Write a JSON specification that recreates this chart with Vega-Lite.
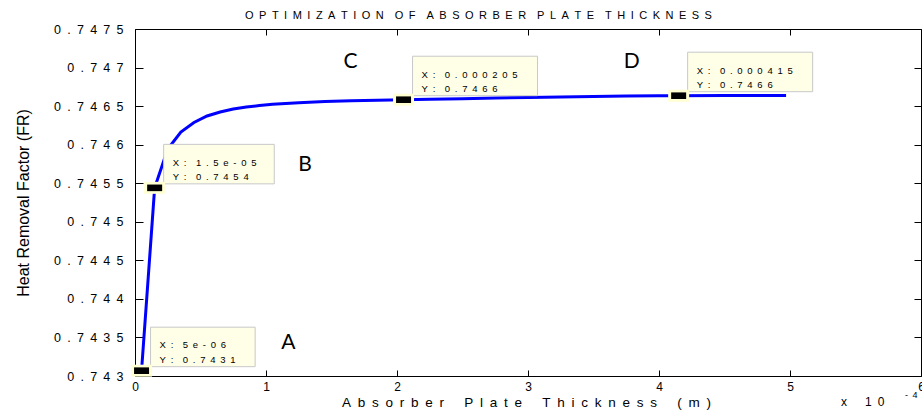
{
  "$schema": "https://vega.github.io/schema/vega-lite/v6.json",
  "width": 786,
  "height": 347,
  "autosize": {"type": "none"},
  "padding": {"left": 135, "top": 29, "right": 1, "bottom": 44},
  "background": "white",
  "config": {
    "view": {"stroke": null},
    "font": "Liberation Sans",
    "axis": {"domainColor": "black", "tickColor": "black", "labelColor": "black", "titleColor": "black", "grid": false, "domainWidth": 1, "tickWidth": 1, "labelFont": "Liberation Sans", "titleFont": "Liberation Sans"}
  },
  "title": {
    "text": "O\u2002P\u2002T\u2002I\u2002M\u2002I\u2002Z\u2002A\u2002T\u2002I\u2002O\u2002N\u2003O\u2002F\u2003A\u2002B\u2002S\u2002O\u2002R\u2002B\u2002E\u2002R\u2003P\u2002L\u2002A\u2002T\u2002E\u2003T\u2002H\u2002I\u2002C\u2002K\u2002N\u2002E\u2002S\u2002S",
    "anchor": "start", "frame": "group", "dx": 110, "fontSize": 11, "fontWeight": "normal", "font": "Liberation Sans", "color": "black", "offset": 2
  },
  "datasets": {
    "curve": [
      {"x": 0.000005, "y": 0.743069},
      {"x": 0.000015, "y": 0.74544},
      {"x": 0.000025, "y": 0.745944},
      {"x": 0.000035, "y": 0.746164},
      {"x": 0.000045, "y": 0.746288},
      {"x": 0.000055, "y": 0.746372},
      {"x": 0.000065, "y": 0.746424},
      {"x": 0.000075, "y": 0.746463},
      {"x": 0.000085, "y": 0.746488},
      {"x": 0.000095, "y": 0.746508},
      {"x": 0.000105, "y": 0.746524},
      {"x": 0.000125, "y": 0.746543},
      {"x": 0.000145, "y": 0.74656},
      {"x": 0.000165, "y": 0.746569},
      {"x": 0.000185, "y": 0.746577},
      {"x": 0.000205, "y": 0.746583},
      {"x": 0.000225, "y": 0.74659},
      {"x": 0.00025, "y": 0.746597},
      {"x": 0.000275, "y": 0.746605},
      {"x": 0.0003, "y": 0.746612},
      {"x": 0.000325, "y": 0.746618},
      {"x": 0.00035, "y": 0.746625},
      {"x": 0.000375, "y": 0.746631},
      {"x": 0.0004, "y": 0.746634},
      {"x": 0.000415, "y": 0.746635},
      {"x": 0.00045, "y": 0.746638},
      {"x": 0.000497, "y": 0.746639}
    ],
    "tips": [
      {"tip": "A", "x": 0.000005, "y": 0.743069, "text": "X\u2002:\u2002\u20025\u2002e\u2002-\u20020\u20026\nY\u2002:\u2002\u20020\u2002.\u20027\u20024\u20023\u20021"},
      {"tip": "B", "x": 0.000015, "y": 0.74544, "text": "X\u2002:\u2002\u20021\u2002.\u20025\u2002e\u2002-\u20020\u20025\nY\u2002:\u2002\u20020\u2002.\u20027\u20024\u20025\u20024"},
      {"tip": "C", "x": 0.000205, "y": 0.746583, "text": "X\u2002:\u2002\u20020\u2002.\u20020\u20020\u20020\u20022\u20020\u20025\nY\u2002:\u2002\u20020\u2002.\u20027\u20024\u20026\u20026"},
      {"tip": "D", "x": 0.000415, "y": 0.746635, "text": "X\u2002:\u2002\u20020\u2002.\u20020\u20020\u20020\u20024\u20021\u20025\nY\u2002:\u2002\u20020\u2002.\u20027\u20024\u20026\u20026"}
    ],
    "letters": [
      {"label": "A", "x": 0.0001170, "y": 0.743424},
      {"label": "B", "x": 0.0001298, "y": 0.745736},
      {"label": "C", "x": 0.0001645, "y": 0.747076},
      {"label": "D", "x": 0.0003792, "y": 0.747076}
    ],
    "exponent": [
      {"part": "base", "x": 0.0005389, "y": 0.742663, "t": "x\u2003\u20021\u20020"},
      {"part": "sup", "x": 0.0005878, "y": 0.742754, "t": "-\u20024"}
    ]
  },
  "layer": [
    {
      "data": {"name": "curve"},
      "mark": {"type": "line", "color": "#0000ff", "strokeWidth": 3},
      "encoding": {
        "x": {"field": "x", "type": "quantitative", "scale": {"domain": [0, 0.0006], "nice": false, "zero": false},
          "axis": {"orient": "bottom", "values": [0, 0.0001, 0.0002, 0.0003, 0.0004, 0.0005, 0.0006], "labelExpr": "format(datum.value*10000,'d')", "tickSize": -6, "labelPadding": 11, "labelFontSize": 12, "labelFlush": false, "labelOverlap": false,
            "title": "A\u2002b\u2002s\u2002o\u2002r\u2002b\u2002e\u2002r\u2003\u2002P\u2002l\u2002a\u2002t\u2002e\u2003\u2002T\u2002h\u2002i\u2002c\u2002k\u2002n\u2002e\u2002s\u2002s\u2003\u2002(\u2002m\u2002)",
            "titleFontSize": 13.5, "titleFontWeight": "normal", "titleX": 391, "titleY": 26, "titleBaseline": "middle", "titleAlign": "center"}},
        "y": {"field": "y", "type": "quantitative", "scale": {"domain": [0.743, 0.7475], "nice": false, "zero": false},
          "axis": {"orient": "left", "values": [0.743, 0.7435, 0.744, 0.7445, 0.745, 0.7455, 0.746, 0.7465, 0.747, 0.7475], "labelExpr": "join(split(format(datum.value,'.4~f'),''),'\u2002')", "tickSize": -8, "labelPadding": 20, "labelFontSize": 12.5, "labelOverlap": false,
            "title": "Heat Removal Factor (FR)", "titleFontSize": 16, "titleFontWeight": "normal", "titleX": -112, "titleY": 173.5, "titleAngle": -90, "titleBaseline": "middle", "titleAlign": "center"}}
      }
    },
    {
      "data": {"name": "curve"},
      "mark": {"type": "point", "opacity": 0},
      "encoding": {
        "x": {"field": "x", "type": "quantitative", "scale": {"domain": [0, 0.0006], "nice": false, "zero": false},
          "axis": {"orient": "top", "values": [0, 0.0001, 0.0002, 0.0003, 0.0004, 0.0005, 0.0006], "labels": false, "tickSize": -6, "title": null}},
        "y": {"field": "y", "type": "quantitative", "scale": {"domain": [0.743, 0.7475], "nice": false, "zero": false},
          "axis": {"orient": "right", "values": [0.743, 0.7435, 0.744, 0.7445, 0.745, 0.7455, 0.746, 0.7465, 0.747, 0.7475], "labels": false, "tickSize": -7, "title": null}}
      }
    },
    {
      "data": {"name": "tips"},
      "transform": [{"filter": "datum.tip == 'A'"}],
      "mark": {"type": "rect", "fill": "#ffffe8", "stroke": "#c8c8c8", "strokeWidth": 1, "xOffset": 9, "x2Offset": 113.6, "yOffset": -43.5, "y2Offset": -4},
      "encoding": {
        "x": {"field": "x", "type": "quantitative", "scale": {"domain": [0, 0.0006], "nice": false, "zero": false}, "axis": null},
        "x2": {"field": "x"},
        "y": {"field": "y", "type": "quantitative", "scale": {"domain": [0.743, 0.7475], "nice": false, "zero": false}, "axis": null},
        "y2": {"field": "y"}
      }
    },
    {
      "data": {"name": "tips"},
      "transform": [{"filter": "datum.tip == 'B'"}],
      "mark": {"type": "rect", "fill": "#ffffe8", "stroke": "#c8c8c8", "strokeWidth": 1, "xOffset": 9, "x2Offset": 119.6, "yOffset": -43.5, "y2Offset": -4},
      "encoding": {
        "x": {"field": "x", "type": "quantitative", "scale": {"domain": [0, 0.0006], "nice": false, "zero": false}, "axis": null},
        "x2": {"field": "x"},
        "y": {"field": "y", "type": "quantitative", "scale": {"domain": [0.743, 0.7475], "nice": false, "zero": false}, "axis": null},
        "y2": {"field": "y"}
      }
    },
    {
      "data": {"name": "tips"},
      "transform": [{"filter": "datum.tip == 'C' || datum.tip == 'D'"}],
      "mark": {"type": "rect", "fill": "#ffffe8", "stroke": "#c8c8c8", "strokeWidth": 1, "xOffset": 9, "x2Offset": 134, "yOffset": -43.5, "y2Offset": -4},
      "encoding": {
        "x": {"field": "x", "type": "quantitative", "scale": {"domain": [0, 0.0006], "nice": false, "zero": false}, "axis": null},
        "x2": {"field": "x"},
        "y": {"field": "y", "type": "quantitative", "scale": {"domain": [0.743, 0.7475], "nice": false, "zero": false}, "axis": null},
        "y2": {"field": "y"}
      }
    },
    {
      "data": {"name": "tips"},
      "mark": {"type": "text", "align": "left", "baseline": "middle", "dx": 18, "dy": -25.2, "fontSize": 9.5, "lineHeight": 14.5, "lineBreak": "\n", "color": "black", "font": "Liberation Sans"},
      "encoding": {
        "x": {"field": "x", "type": "quantitative", "scale": {"domain": [0, 0.0006], "nice": false, "zero": false}, "axis": null},
        "y": {"field": "y", "type": "quantitative", "scale": {"domain": [0.743, 0.7475], "nice": false, "zero": false}, "axis": null},
        "text": {"field": "text"}
      }
    },
    {
      "data": {"name": "tips"},
      "mark": {"type": "point", "filled": true, "color": "#ffffd2", "opacity": 1, "shape": "M-1,-0.57L1,-0.57L1,0.57L-1,0.57Z", "size": 441},
      "encoding": {
        "x": {"field": "x", "type": "quantitative", "scale": {"domain": [0, 0.0006], "nice": false, "zero": false}, "axis": null},
        "y": {"field": "y", "type": "quantitative", "scale": {"domain": [0.743, 0.7475], "nice": false, "zero": false}, "axis": null}
      }
    },
    {
      "data": {"name": "tips"},
      "mark": {"type": "point", "filled": true, "color": "black", "opacity": 1, "shape": "M-1,-0.44L1,-0.44L1,0.44L-1,0.44Z", "size": 225},
      "encoding": {
        "x": {"field": "x", "type": "quantitative", "scale": {"domain": [0, 0.0006], "nice": false, "zero": false}, "axis": null},
        "y": {"field": "y", "type": "quantitative", "scale": {"domain": [0.743, 0.7475], "nice": false, "zero": false}, "axis": null}
      }
    },
    {
      "data": {"name": "letters"},
      "mark": {"type": "text", "align": "center", "baseline": "middle", "fontSize": 21, "font": "Lato", "color": "black"},
      "encoding": {
        "x": {"field": "x", "type": "quantitative", "scale": {"domain": [0, 0.0006], "nice": false, "zero": false}, "axis": null},
        "y": {"field": "y", "type": "quantitative", "scale": {"domain": [0.743, 0.7475], "nice": false, "zero": false}, "axis": null},
        "text": {"field": "label"}
      }
    },
    {
      "data": {"name": "exponent"},
      "transform": [{"filter": "datum.part == 'base'"}],
      "mark": {"type": "text", "align": "left", "baseline": "middle", "fontSize": 12, "font": "Liberation Sans", "color": "black"},
      "encoding": {
        "x": {"field": "x", "type": "quantitative", "scale": {"domain": [0, 0.0006], "nice": false, "zero": false}, "axis": null},
        "y": {"field": "y", "type": "quantitative", "scale": {"domain": [0.743, 0.7475], "nice": false, "zero": false}, "axis": null},
        "text": {"field": "t"}
      }
    },
    {
      "data": {"name": "exponent"},
      "transform": [{"filter": "datum.part == 'sup'"}],
      "mark": {"type": "text", "align": "left", "baseline": "middle", "fontSize": 9, "font": "Liberation Sans", "color": "black"},
      "encoding": {
        "x": {"field": "x", "type": "quantitative", "scale": {"domain": [0, 0.0006], "nice": false, "zero": false}, "axis": null},
        "y": {"field": "y", "type": "quantitative", "scale": {"domain": [0.743, 0.7475], "nice": false, "zero": false}, "axis": null},
        "text": {"field": "t"}
      }
    }
  ],
  "resolve": {"axis": {"x": "independent", "y": "independent"}}
}
